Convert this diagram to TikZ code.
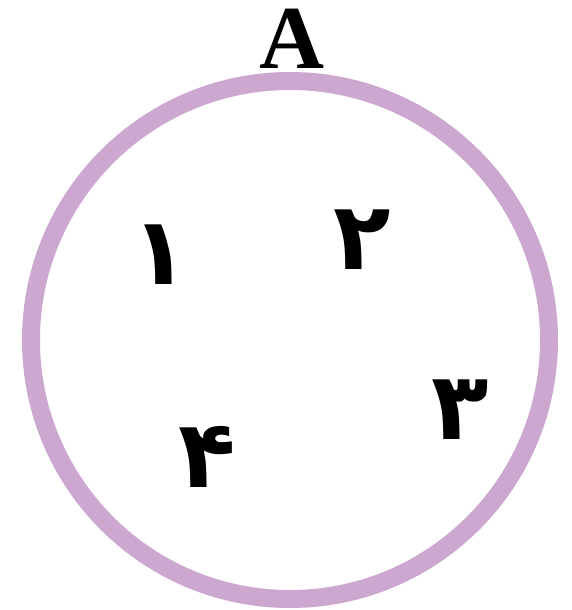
\documentclass[tikz,border=0pt]{standalone}
\usepackage{fontspec}
\setmainfont{Liberation Serif}
\newfontfamily\digitfont[Script=Arabic]{DejaVu Sans}
\TeXXeTstate=1
\definecolor{ringpurple}{RGB}{204,168,208}
\tikzset{
  ring/.style={draw=ringpurple, line width=18pt},
  digit/.style={inner sep=0pt, font=\digitfont\bfseries\fontsize{94}{94}\selectfont},
  title/.style={inner sep=0pt, font=\bfseries\fontsize{90}{90}\selectfont}
}
\begin{document}
\begin{tikzpicture}[x=1pt,y=-1pt]
\useasboundingbox (0,0) rectangle (572,610);
\fill[white] (0,0) rectangle (572,610);
\node[ring, circle, minimum size=518pt, inner sep=0pt] (ring) at (290,340) {};
\node[title, anchor=base] (A) at (292,68) {A};
\node[digit] (d1) at (160,255) {\beginR ۱\endR};
\node[digit] (d2) at (362,240) {\beginR ۲\endR};
\node[digit] (d3) at (460,410) {\beginR ۳\endR};
\node[digit] (d4) at (207,457) {\beginR ۴\endR};
\end{tikzpicture}
\end{document}
